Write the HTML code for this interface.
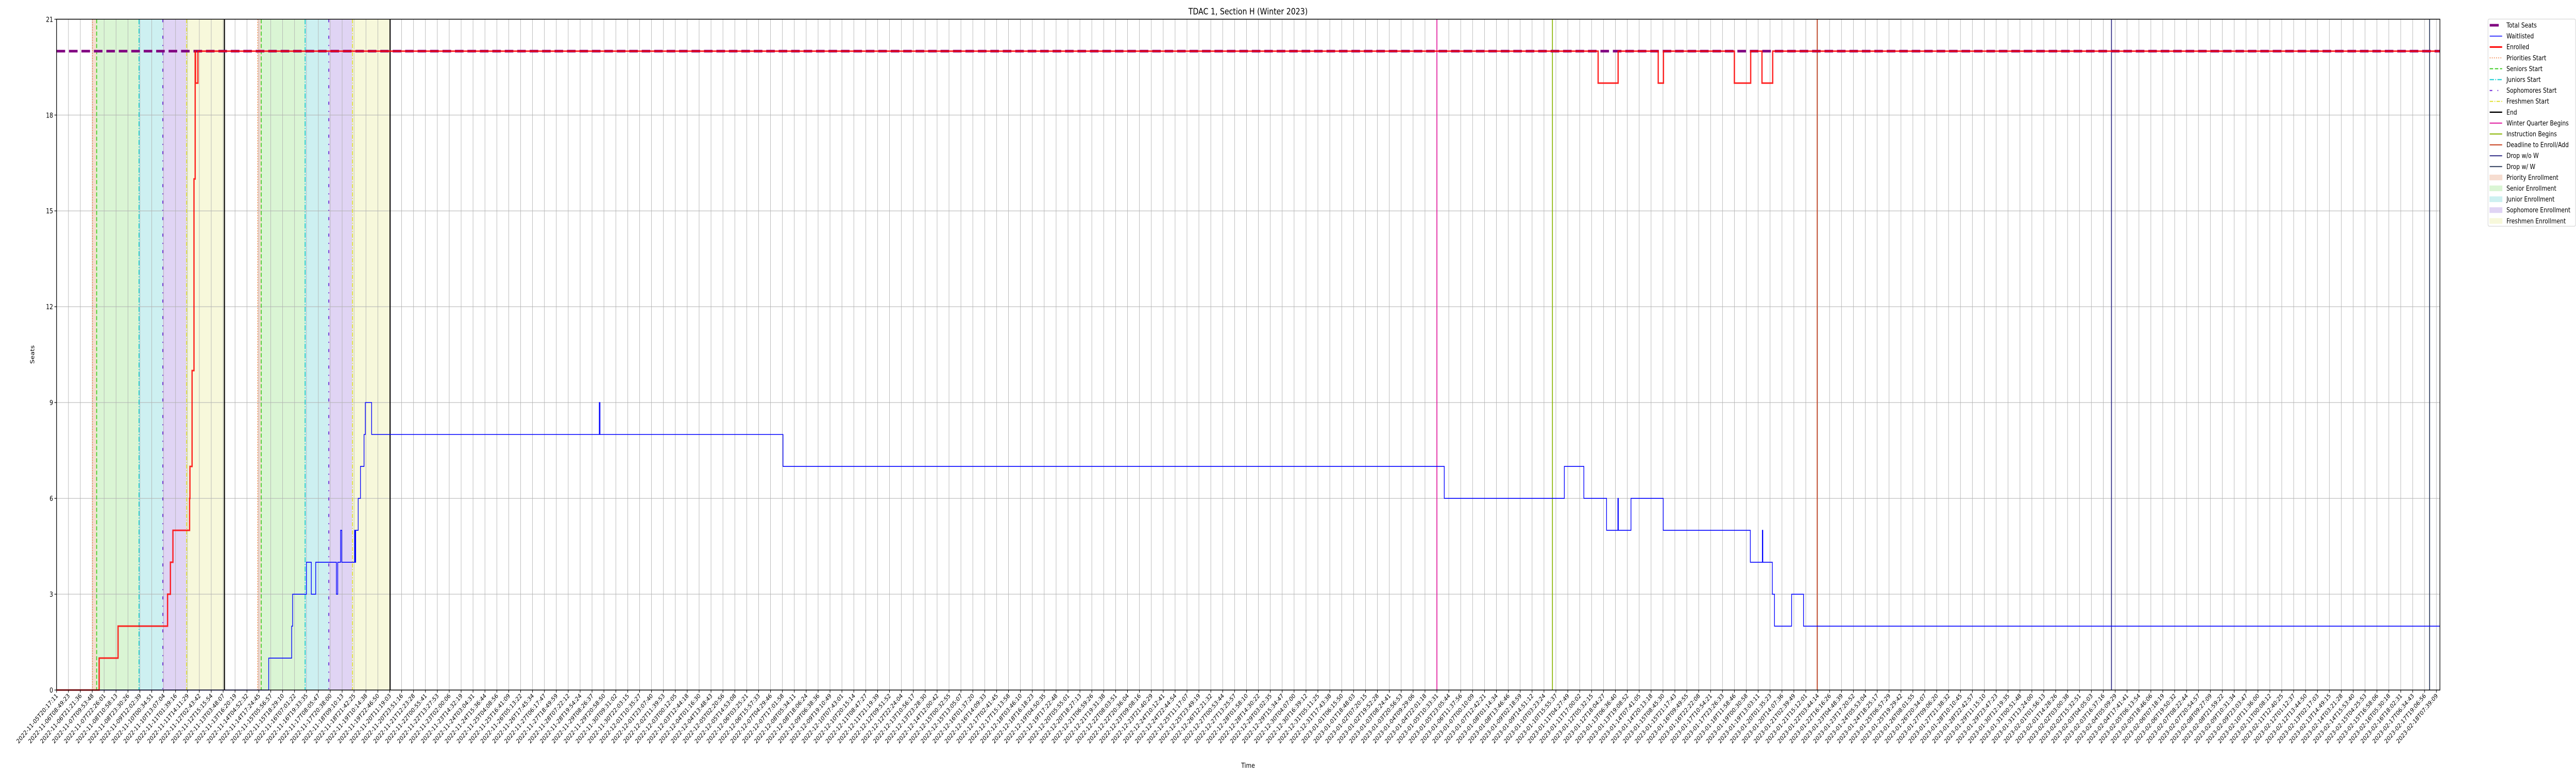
<!DOCTYPE html>
<html><head><meta charset="utf-8"><style>
html,body{margin:0;padding:0;background:#fff;width:100%;height:100%;overflow:hidden;}
svg{display:block;width:100vw;height:100vh;font-family:"DejaVu Sans","Liberation Sans",sans-serif;}
</style></head><body>
<svg id="chart" viewBox="0 0 6000 1500" preserveAspectRatio="none" xmlns="http://www.w3.org/2000/svg" overflow="hidden">
<text x="2907" y="28" text-anchor="middle" font-size="17">TDAC 1, Section H (Winter 2023)</text>
<text x="2907" y="1490" text-anchor="middle" font-size="13">Time</text>
<text transform="translate(80,688) rotate(-90)" text-anchor="middle" font-size="13">Seats</text>
<g id="layer"></g>
</svg>
<script>
// ---- data (x in tick-index units, y in seats) ----
const tickCount = 201;
const startMs = Date.UTC(2022,10,5,20,17,11);
const endMs = Date.UTC(2023,1,18,7,39,9);
const tickLabels = [];
for (let i = 0; i < tickCount; i++) {
  const d = new Date(startMs + (endMs - startMs) * i / (tickCount - 1));
  tickLabels.push(d.toISOString().slice(0,19));
}
const yTicks = [0,3,6,9,12,15,18,21];
const totalSeats = 20;
const enrolledX = [0,3.58,5.17,9.33,9.57,9.78,11.18,11.21,11.39,11.55,11.65,11.68,11.88,129.55,131.23,134.60,135.04,141.00,142.37,143.32,144.22,200.29];
const enrolledY = [0,1,2,3,4,5,6,7,10,16,20,19,20,19,20,19,20,19,20,19,20,20];
const waitX = [0,17.83,19.76,19.84,21.00,21.41,21.78,23.52,23.63,23.87,23.97,25.05,25.10,25.14,25.35,25.54,25.84,25.95,26.48,45.61,45.67,61.05,116.62,126.71,128.35,130.26,131.21,131.25,132.31,135.02,142.34,143.35,143.39,144.19,144.37,145.81,146.81,200.29];
const waitY = [0,1,2,3,4,3,4,3,4,5,4,5,4,5,6,7,8,9,8,9,8,7,6,7,6,5,6,5,6,5,4,5,4,3,2,3,2,2];
const periodStarts = [3.02,3.37,6.93,8.93,10.93, 16.90,17.20,20.89,22.88,24.87];
const periodEnds   = [3.37,6.93,8.93,10.93,14.11, 17.20,20.89,22.88,24.87,28.03];
const periodKinds  = ['priority','senior','junior','sophomore','freshman','priority','senior','junior','sophomore','freshman'];
const eventX = [3.02,3.37,6.93,8.93,10.93,14.11,16.90,17.20,20.89,22.88,24.87,28.03,116.0,125.71,147.96,172.69,199.42];
const eventKinds = ['pri','sen','jun','sop','fre','end','pri','sen','jun','sop','fre','end','wq','ins','dead','dropwo','dropw'];

// ---- layout ----
const L = 131.7, R = 5683, T = 37.3, B = 1339;
const xMax = 200.29;
const xs = v => L + (v / xMax) * (R - L);
const ys = v => B - (v / 21) * (B - T);
const NS = 'http://www.w3.org/2000/svg';
const layer = document.getElementById('layer');
function mk(tag, attrs, parent) {
  const e = document.createElementNS(NS, tag);
  for (const k in attrs) e.setAttribute(k, attrs[k]);
  (parent || layer).appendChild(e);
  return e;
}
const shadeColor = {priority:'#f6ddd0', senior:'#daf5d4', junior:'#cdf0f1', sophomore:'#e0d4f4', freshman:'#f7f8db'};
const evStyle = {
  pri:{c:'#f07a3a',w:1.6,d:'2,3'}, sen:{c:'#3ccc22',w:2,d:'8,4'}, jun:{c:'#10ccd0',w:2,d:'10,3,2,3'},
  sop:{c:'#6a1fd6',w:2,d:'6,12,2,12'}, fre:{c:'#e0e030',w:2,d:'8,3,2,3'}, end:{c:'#000',w:2.5,d:''},
  wq:{c:'#e0189d',w:2,d:''}, ins:{c:'#88b400',w:2,d:''}, dead:{c:'#c8401e',w:2,d:''},
  dropwo:{c:'#2e2a86',w:2,d:''}, dropw:{c:'#2e3c5c',w:2,d:''}
};

for (let i = 0; i < periodStarts.length; i++) {
  const r = mk('rect', {x: xs(periodStarts[i]), y: T, width: xs(periodEnds[i]) - xs(periodStarts[i]), height: B - T, fill: shadeColor[periodKinds[i]]});
  
  
}
for (let i = 0; i < tickLabels.length; i++) {
  const g = mk('line', {x1: xs(i), x2: xs(i), y1: T, y2: B, stroke: '#b0b0b0', 'stroke-width': 1});
  
  
}
for (const v of yTicks) {
  const g = mk('line', {x1: L, x2: R, y1: ys(v), y2: ys(v), stroke: '#b0b0b0', 'stroke-width': 1});
  
  
}
for (let i = 0; i < eventX.length; i++) {
  const s = evStyle[eventKinds[i]];
  const a = {x1: xs(eventX[i]), x2: xs(eventX[i]), y1: T, y2: B, stroke: s.c, 'stroke-width': s.w};
  if (s.d) a['stroke-dasharray'] = s.d;
  const e = mk('line', a);
  
  
}
function stepPath(X, Y) {
  let d = 'M' + xs(X[0]) + ',' + ys(Y[0]);
  for (let i = 1; i < X.length; i++) d += 'H' + xs(X[i]) + 'V' + ys(Y[i]);
  return d;
}
const wp = mk('path', {d: stepPath(waitX, waitY), fill: 'none', stroke: '#0000ff', 'stroke-width': 1.6});


const ts = mk('line', {x1: L, x2: R, y1: ys(totalSeats), y2: ys(totalSeats), stroke: '#800080', 'stroke-width': 5, 'stroke-dasharray': '20,9'});


const ep = mk('path', {d: stepPath(enrolledX, enrolledY), fill: 'none', stroke: '#ff0000', 'stroke-width': 3, 'stroke-opacity': 0.85});


const fr = mk('rect', {x: L, y: T, width: R - L, height: B - T, fill: 'none', stroke: '#000', 'stroke-width': 1.5});


for (const v of yTicks) {
  const t = mk('line', {x1: L - 5, x2: L, y1: ys(v), y2: ys(v), stroke: '#000', 'stroke-width': 1.2});
  
  
  const lb = mk('text', {x: L - 8, y: ys(v) + 5, 'text-anchor': 'end', 'font-size': 13});
  lb.textContent = String(v);
  
  
}
for (let i = 0; i < tickLabels.length; i++) {
  const x = xs(i);
  const t = mk('line', {x1: x, x2: x, y1: B, y2: B + 5, stroke: '#000', 'stroke-width': 1.2});
  
  
  const lb = mk('text', {transform: 'translate(' + (x + 4) + ',' + (B + 12) + ') rotate(-45)', 'text-anchor': 'end', 'font-size': 12});
  lb.textContent = tickLabels[i];
  
  
}
const legendLabels = ['Total Seats','Waitlisted','Enrolled','Priorities Start','Seniors Start','Juniors Start','Sophomores Start','Freshmen Start','End','Winter Quarter Begins','Instruction Begins','Deadline to Enroll/Add','Drop w/o W','Drop w/ W','Priority Enrollment','Senior Enrollment','Junior Enrollment','Sophomore Enrollment','Freshmen Enrollment'];
const legendKeys = ['total','wait','enr','pri','sen','jun','sop','fre','end','wq','ins','dead','dropwo','dropw','priority','senior','junior','sophomore','freshman'];
const lg = mk('g', {});


mk('rect', {x: 5795, y: 37, width: 204, height: 402, rx: 3, fill: '#fff', stroke: '#cccccc', 'stroke-width': 1}, lg);
for (let i = 0; i < legendLabels.length; i++) {
  const y = 49 + i * 21.1;
  const k = legendKeys[i];
  const entry = mk('g', {}, lg);
  
  
  if (k === 'total') mk('line', {x1: 5799, x2: 5820, y1: y, y2: y, stroke: '#800080', 'stroke-width': 5}, entry);
  else if (k === 'wait') mk('line', {x1: 5799, x2: 5828, y1: y, y2: y, stroke: '#0000ff', 'stroke-width': 1.5}, entry);
  else if (k === 'enr') mk('line', {x1: 5799, x2: 5828, y1: y, y2: y, stroke: '#ff0000', 'stroke-width': 3}, entry);
  else if (shadeColor[k]) mk('rect', {x: 5799, y: y - 5, width: 29, height: 10, fill: shadeColor[k], stroke: shadeColor[k]}, entry);
  else {
    const s = evStyle[k];
    const a = {x1: 5799, x2: 5828, y1: y, y2: y, stroke: s.c, 'stroke-width': s.w};
    if (s.d) a['stroke-dasharray'] = s.d;
    mk('line', a, entry);
  }
  const tx = mk('text', {x: 5838, y: y + 4.5, 'font-size': 13}, entry);
  tx.textContent = legendLabels[i];
}
</script>
</body></html>
